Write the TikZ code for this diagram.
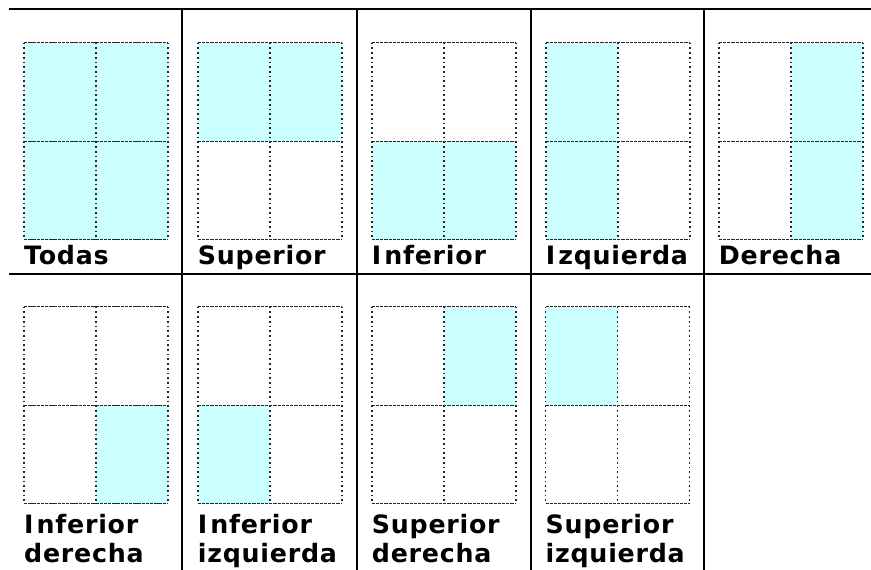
\documentclass[tikz,border=0pt]{standalone}
\usepackage{fontspec}
\newfontfamily\lab[LetterSpace=3]{DejaVu Sans}
\tikzset{
  tabline/.style={line width=2pt, black},
  hdash/.style={line width=1.3pt, black!85, dash pattern=on 3.3pt off 0.9pt},
  vdot/.style={line width=1.8pt, black!85, dash pattern=on 1.7pt off 3pt},
  cyanfill/.style={fill=cyanc},
  lbl/.style={font=\lab\bfseries\fontsize{25.3}{30}\selectfont, inner sep=0pt, anchor=base west}
}
\definecolor{cyanc}{HTML}{CCFFFF}
\newcommand\gridbox[2]{%
  \draw[vdot] (#1,#2) -- ++(0,197);
  \draw[vdot] (#1+72,#2) -- ++(0,197);
  \draw[vdot] (#1+144,#2) -- ++(0,197);
  \draw[hdash] (#1,#2) -- ++(144,0);
  \draw[hdash] (#1,#2+98.5) -- ++(144,0);
  \draw[hdash] (#1,#2+197) -- ++(144,0);
}
\newcommand\cellfill[4]{\fill[cyanfill] (#1+#3*72,#2+#4*98.5) rectangle ++(72,98.5);}
\newcommand\Ik{I\kern3pt}
\begin{document}
\begin{tikzpicture}[x=1pt,y=-1pt]
\useasboundingbox (0,0) rectangle (871,570);
% fills top row
\cellfill{24}{42.7}{0}{0}\cellfill{24}{42.7}{1}{0}\cellfill{24}{42.7}{0}{1}\cellfill{24}{42.7}{1}{1}
\cellfill{197.7}{42.7}{0}{0}\cellfill{197.7}{42.7}{1}{0}
\cellfill{371.7}{42.7}{0}{1}\cellfill{371.7}{42.7}{1}{1}
\cellfill{545.7}{42.7}{0}{0}\cellfill{545.7}{42.7}{0}{1}
\cellfill{718.7}{42.7}{1}{0}\cellfill{718.7}{42.7}{1}{1}
% fills bottom row
\cellfill{24}{306.7}{1}{1}
\cellfill{197.7}{306.7}{0}{1}
\cellfill{371.7}{306.7}{1}{0}
\cellfill{545.5}{306.7}{0}{0}
% grids
\gridbox{24}{42.7}\gridbox{197.7}{42.7}\gridbox{371.7}{42.7}\gridbox{545.7}{42.7}\gridbox{718.7}{42.7}
\gridbox{24}{306.7}\gridbox{197.7}{306.7}\gridbox{371.7}{306.7}\gridbox{545.5}{306.7}
% table lines
\draw[tabline] (9,9) -- (871,9);
\draw[tabline] (9,273.5) -- (871,273.5);
\foreach \x in {182,357,531,704} \draw[tabline] (\x,9) -- (\x,570);
% labels
\node[lbl] (t1) at (24,264.3) {Todas};
\node[lbl] (t2) at (197.7,264.3) {Superior};
\node[lbl] (t3) at (371.7,264.3) {\Ik nferior};
\node[lbl] (t4) at (545.7,264.3) {\Ik zquierda};
\node[lbl] (t5) at (718.7,264.3) {Derecha};
\node[lbl] (b1a) at (24,533.3) {\Ik nferior};
\node[lbl] (b1b) at (24,562.7) {derecha};
\node[lbl] (b2a) at (197.7,533.3) {\Ik nferior};
\node[lbl] (b2b) at (197.7,562.7) {izquierda};
\node[lbl] (b3a) at (371.7,533.3) {Superior};
\node[lbl] (b3b) at (371.7,562.7) {derecha};
\node[lbl] (b4a) at (545.5,533.3) {Superior};
\node[lbl] (b4b) at (545.5,562.7) {izquierda};
\end{tikzpicture}
\end{document}
